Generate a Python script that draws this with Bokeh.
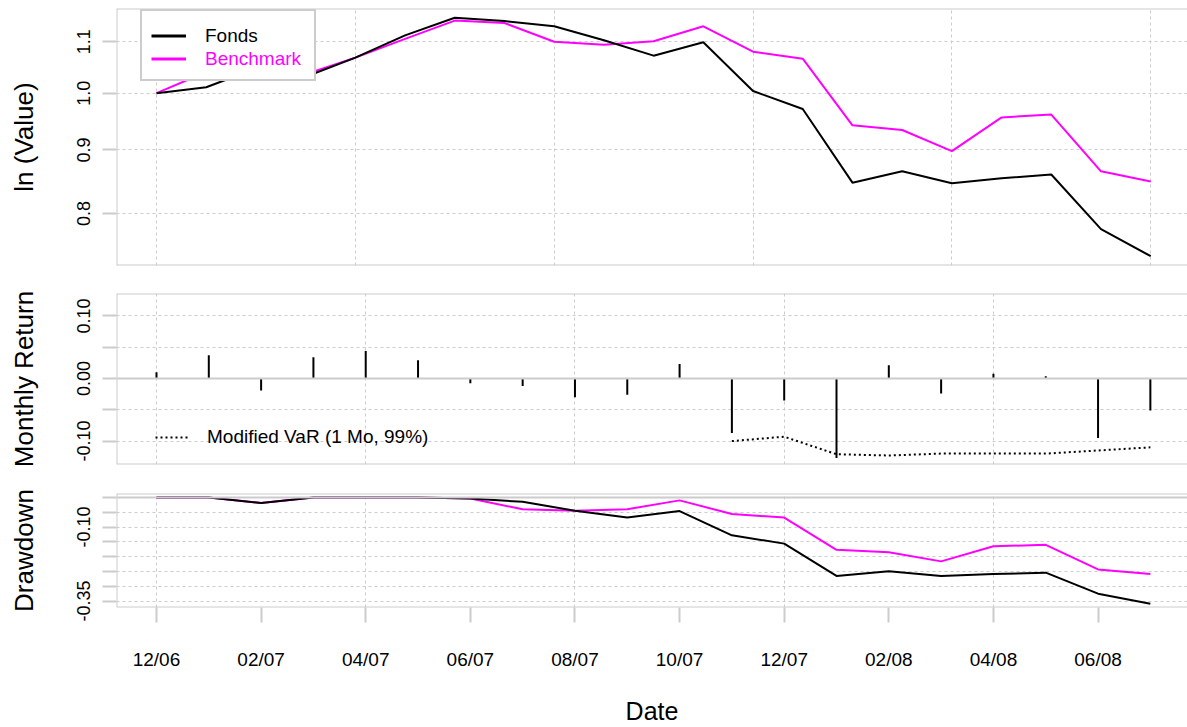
import math
from bokeh.plotting import figure
from bokeh.layouts import column
from bokeh.models import (FixedTicker, CustomJSTickFormatter, Range1d, Span,
                          Legend, LegendItem)
from bokeh.embed import file_html
from bokeh.resources import INLINE

# ---------------- data ----------------
months = ["12/06", "01/07", "02/07", "03/07", "04/07", "05/07", "06/07", "07/07",
          "08/07", "09/07", "10/07", "11/07", "12/07", "01/08", "02/08", "03/08",
          "04/08", "05/08", "06/08", "07/08"]

wealth_fonds = [1.000, 1.011, 1.047, 1.031, 1.068, 1.113, 1.150, 1.143, 1.132, 1.103,
                1.072, 1.099, 1.004, 0.971, 0.847, 0.865, 0.846, 0.854, 0.860, 0.777, 0.739]
wealth_bench = [1.000, 1.040, 1.056, 1.036, 1.068, 1.106, 1.144, 1.139, 1.100, 1.094,
                1.101, 1.132, 1.080, 1.066, 0.942, 0.934, 0.898, 0.956, 0.961, 0.865, 0.849]

returns_fonds = [0.010, 0.037, -0.019, 0.034, 0.044, 0.029, -0.0075, -0.012, -0.030, -0.026,
                 0.023, -0.087, -0.035, -0.127, 0.021, -0.024, 0.0075, 0.0037, -0.095, -0.051]

nan = float("nan")
var_modified = [nan] * 11 + [-0.100, -0.093, -0.121, -0.123, -0.120, -0.120, -0.120, -0.115, -0.110]

dd_fonds = [0.0, 0.0, -0.019, 0.0, 0.0, 0.0, -0.004, -0.015, -0.045, -0.068,
            -0.046, -0.128, -0.156, -0.265, -0.249, -0.265, -0.259, -0.254, -0.325, -0.359]
dd_bench = [0.0, 0.0, -0.019, 0.0, 0.0, 0.0, -0.004, -0.040, -0.045, -0.040,
            -0.010, -0.056, -0.068, -0.177, -0.185, -0.216, -0.165, -0.160, -0.243, -0.259]

wealth_ticks = [0.8, 0.9, 1.0, 1.1]
return_ticks = [-0.10, -0.05, 0.0, 0.05, 0.10]
dd_ticks = [0.0, -0.05, -0.10, -0.15, -0.20, -0.25, -0.30, -0.35]

# ---------------- style ----------------
FONT = "Liberation Sans"
GRID = "#cccccc"
BLACK = "#000000"
PINK = "#ff00ff"
W = 1187
LEFT = 116


def make_fig(height, bt, bb, xr, yr, y_type="linear"):
    p = figure(width=W, height=height, x_range=xr, y_range=yr, y_axis_type=y_type,
               output_backend="svg", toolbar_location=None, tools="",
               min_border_left=LEFT, min_border_right=0,
               min_border_top=bt, min_border_bottom=bb)
    p.outline_line_color = None
    p.background_fill_color = "white"
    p.border_fill_color = "white"
    for g in (p.xgrid[0], p.ygrid[0]):
        g.grid_line_color = GRID
        g.grid_line_dash = "3 3"
        g.grid_line_width = 1
    # frame borders: top, bottom, left
    p.add_layout(Span(location=yr.end, dimension="width", line_color=GRID, line_width=2))
    p.add_layout(Span(location=yr.start, dimension="width", line_color=GRID, line_width=2))
    p.add_layout(Span(location=xr.start, dimension="height", line_color=GRID, line_width=2))
    return p


def style_yaxis(p, ticks, code, title):
    ax = p.yaxis[0]
    ax.ticker = FixedTicker(ticks=ticks)
    ax.formatter = CustomJSTickFormatter(code=code)
    ax.axis_line_color = None
    ax.major_tick_line_color = GRID
    ax.major_tick_line_width = 2
    ax.major_tick_out = 14
    ax.major_tick_in = 0
    ax.minor_tick_line_color = None
    ax.major_label_orientation = "vertical"
    ax.major_label_text_font = FONT
    ax.major_label_text_font_size = "18px"
    ax.major_label_text_color = BLACK
    ax.major_label_standoff = 12
    ax.axis_label = title
    ax.axis_label_text_font = FONT
    ax.axis_label_text_font_size = "26px"
    ax.axis_label_text_font_style = "normal"
    ax.axis_label_text_color = BLACK
    ax.axis_label_standoff = 36


def legend_common(**kw):
    base = dict(orientation="vertical", spacing=0, margin=0,
                glyph_width=35, glyph_height=23, label_height=23, label_standoff=19,
                label_text_font=FONT, label_text_font_size="19px")
    base.update(kw)
    return Legend(**base)


# ---------------- panel 1: wealth (log) ----------------
k_idx = list(range(len(wealth_fonds)))
p1 = make_fig(280, 8, 15, Range1d(-0.805, 20.74), Range1d(0.7264, 1.170), y_type="log")
p1.xaxis.visible = False
p1.xgrid[0].ticker = FixedTicker(ticks=list(range(0, len(wealth_fonds), 4)))
p1.ygrid[0].ticker = FixedTicker(ticks=wealth_ticks)
style_yaxis(p1, wealth_ticks, "return tick.toFixed(1);", "ln (Value)")

p1.line(k_idx, wealth_bench, line_color=PINK, line_width=2)
p1.line(k_idx, wealth_fonds, line_color=BLACK, line_width=2)

# legend-only renderers (single NaN point, draws nothing in the plot)
dF = p1.line(x=[0], y=[nan], line_color=BLACK, line_width=3)
dB = p1.line(x=[0], y=[nan], line_color=PINK, line_width=3)
dX = p1.line(x=[0], y=[nan], line_color=BLACK, line_alpha=0, line_width=3)

LX, LY, PAD, ROW = 24, 184, 11, 23
legBox = legend_common(items=[LegendItem(label="Fonds", renderers=[dX]),
                              LegendItem(label="Benchmark", renderers=[dX])],
                       location=(LX, LY), padding=PAD, label_text_alpha=0,
                       border_line_color=GRID, border_line_width=2, border_line_alpha=1,
                       background_fill_color="white", background_fill_alpha=1)
p1.add_layout(legBox)
legF = legend_common(items=[LegendItem(label="Fonds", renderers=[dF])],
                     location=(LX + PAD, LY + PAD + ROW), padding=0,
                     label_text_color=BLACK, border_line_color=None, background_fill_alpha=0)
p1.add_layout(legF)
legB = legend_common(items=[LegendItem(label="Benchmark", renderers=[dB])],
                     location=(LX + PAD, LY + PAD), padding=0,
                     label_text_color=PINK, border_line_color=None, background_fill_alpha=0)
p1.add_layout(legB)

# ---------------- panel 2: monthly returns ----------------
j_idx = list(range(len(returns_fonds)))
p2 = make_fig(200, 13, 16, Range1d(-0.7645, 19.71), Range1d(-0.1374, 0.1358))
p2.xaxis.visible = False
p2.xgrid[0].ticker = FixedTicker(ticks=list(range(0, len(returns_fonds), 4)))
p2.ygrid[0].ticker = FixedTicker(ticks=[t for t in return_ticks if t != 0])
style_yaxis(p2, return_ticks,
            "const v = Math.round(tick*100); if (Math.abs(v) % 10 != 0) return ''; return tick.toFixed(2);",
            "Monthly Return")
p2.add_layout(Span(location=0, dimension="width", line_color=GRID, line_width=2))
p2.segment(x0=j_idx, y0=[0] * len(j_idx), x1=j_idx, y1=returns_fonds,
           line_color=BLACK, line_width=2)
var_r = p2.line(j_idx, var_modified, line_color=BLACK, line_width=2, line_dash="2 3")
legV = legend_common(items=[LegendItem(label="Modified VaR (1 Mo, 99%)", renderers=[var_r])],
                     location=(39, 16), padding=0, glyph_width=33, glyph_height=22,
                     label_height=22, label_text_color=BLACK,
                     border_line_color=None, background_fill_alpha=0)
p2.add_layout(legV)

# ---------------- panel 3: drawdown ----------------
p3 = make_fig(247, 13, 117, Range1d(-0.7645, 19.71), Range1d(-0.3717, 0.0132))
p3.xgrid[0].ticker = FixedTicker(ticks=list(range(0, len(dd_fonds), 4)))
p3.ygrid[0].ticker = FixedTicker(ticks=[t for t in dd_ticks if t != 0])
style_yaxis(p3, dd_ticks,
            "const v = Math.round(tick*100); return (v == -10 || v == -35) ? tick.toFixed(2) : '';",
            "Drawdown")
p3.add_layout(Span(location=0, dimension="width", line_color=GRID, line_width=2))
p3.line(j_idx, dd_bench, line_color=PINK, line_width=2)
p3.line(j_idx, dd_fonds, line_color=BLACK, line_width=2)

xa = p3.xaxis[0]
xa.ticker = FixedTicker(ticks=list(range(0, len(months), 2)))
xa.major_label_overrides = {i: months[i] for i in range(0, len(months), 2)}
xa.axis_line_color = None
xa.major_tick_line_color = GRID
xa.major_tick_line_width = 2
xa.major_tick_out = 15
xa.major_tick_in = 0
xa.minor_tick_line_color = None
xa.major_label_text_font = FONT
xa.major_label_text_font_size = "19px"
xa.major_label_text_color = BLACK
xa.major_label_standoff = 26
xa.axis_label = "Date"
xa.axis_label_text_font = FONT
xa.axis_label_text_font_size = "25px"
xa.axis_label_text_font_style = "normal"
xa.axis_label_text_color = BLACK
xa.axis_label_standoff = 24

layout = column(p1, p2, p3, spacing=0)
open("out.html", "w").write(file_html(layout, INLINE))
